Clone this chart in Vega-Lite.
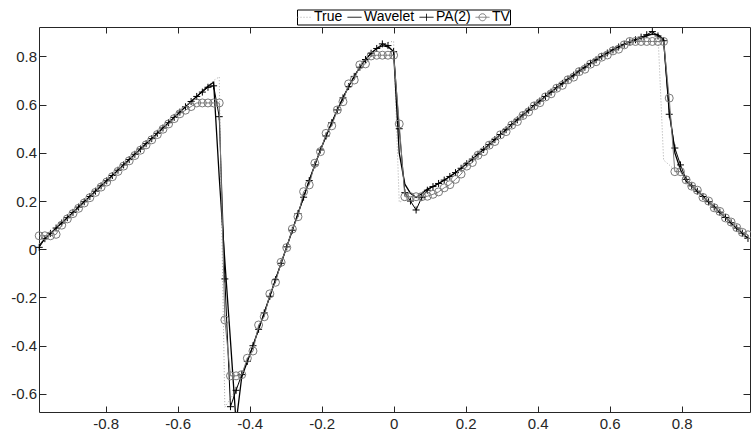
{
"$schema": "https://vega.github.io/schema/vega-lite/v6.json",
"width": 711, "height": 385,
"autosize": {"type": "none"},
"padding": {"left": 39, "top": 27, "right": 1, "bottom": 24},
"background": "white",
"config": {"view": {"stroke": null}, "font": "Liberation Sans"},
"data": {"values": [
{"x":-0.984375,"True":0.022,"Wavelet":0.015,"PA(2)":0.008,"TV":0.056},
{"x":-0.96875,"True":0.044,"Wavelet":0.044,"PA(2)":0.044,"TV":0.056},
{"x":-0.953125,"True":0.066,"Wavelet":0.066,"PA(2)":0.066,"TV":0.056},
{"x":-0.9375,"True":0.088,"Wavelet":0.088,"PA(2)":0.088,"TV":0.062},
{"x":-0.921875,"True":0.109,"Wavelet":0.109,"PA(2)":0.109,"TV":0.1},
{"x":-0.90625,"True":0.131,"Wavelet":0.131,"PA(2)":0.131,"TV":0.126},
{"x":-0.890625,"True":0.153,"Wavelet":0.153,"PA(2)":0.153,"TV":0.148},
{"x":-0.875,"True":0.175,"Wavelet":0.175,"PA(2)":0.175,"TV":0.17},
{"x":-0.859375,"True":0.197,"Wavelet":0.197,"PA(2)":0.197,"TV":0.192},
{"x":-0.84375,"True":0.219,"Wavelet":0.219,"PA(2)":0.219,"TV":0.214},
{"x":-0.828125,"True":0.241,"Wavelet":0.241,"PA(2)":0.241,"TV":0.236},
{"x":-0.8125,"True":0.263,"Wavelet":0.263,"PA(2)":0.263,"TV":0.258},
{"x":-0.796875,"True":0.284,"Wavelet":0.284,"PA(2)":0.284,"TV":0.279},
{"x":-0.78125,"True":0.306,"Wavelet":0.306,"PA(2)":0.306,"TV":0.301},
{"x":-0.765625,"True":0.328,"Wavelet":0.328,"PA(2)":0.328,"TV":0.323},
{"x":-0.75,"True":0.35,"Wavelet":0.35,"PA(2)":0.35,"TV":0.345},
{"x":-0.734375,"True":0.372,"Wavelet":0.372,"PA(2)":0.372,"TV":0.367},
{"x":-0.71875,"True":0.394,"Wavelet":0.394,"PA(2)":0.394,"TV":0.389},
{"x":-0.703125,"True":0.416,"Wavelet":0.416,"PA(2)":0.416,"TV":0.411},
{"x":-0.6875,"True":0.438,"Wavelet":0.438,"PA(2)":0.438,"TV":0.433},
{"x":-0.671875,"True":0.459,"Wavelet":0.459,"PA(2)":0.459,"TV":0.454},
{"x":-0.65625,"True":0.481,"Wavelet":0.481,"PA(2)":0.481,"TV":0.476},
{"x":-0.640625,"True":0.503,"Wavelet":0.503,"PA(2)":0.503,"TV":0.498},
{"x":-0.625,"True":0.525,"Wavelet":0.525,"PA(2)":0.525,"TV":0.52},
{"x":-0.609375,"True":0.547,"Wavelet":0.547,"PA(2)":0.547,"TV":0.542},
{"x":-0.59375,"True":0.569,"Wavelet":0.569,"PA(2)":0.569,"TV":0.562},
{"x":-0.578125,"True":0.591,"Wavelet":0.591,"PA(2)":0.591,"TV":0.577},
{"x":-0.5625,"True":0.613,"Wavelet":0.613,"PA(2)":0.613,"TV":0.592},
{"x":-0.546875,"True":0.634,"Wavelet":0.634,"PA(2)":0.634,"TV":0.607},
{"x":-0.53125,"True":0.656,"Wavelet":0.656,"PA(2)":0.652,"TV":0.607},
{"x":-0.515625,"True":0.678,"Wavelet":0.676,"PA(2)":0.672,"TV":0.607},
{"x":-0.5,"True":0.7,"Wavelet":0.693,"PA(2)":0.678,"TV":0.607},
{"x":-0.484375,"True":0.715,"Wavelet":0.3,"PA(2)":0.55,"TV":0.607},
{"x":-0.46875,"True":-0.655,"Wavelet":-0.05,"PA(2)":-0.123,"TV":-0.293},
{"x":-0.453125,"True":-0.62,"Wavelet":-0.38,"PA(2)":-0.653,"TV":-0.525},
{"x":-0.4375,"True":-0.58,"Wavelet":-0.72,"PA(2)":-0.585,"TV":-0.525},
{"x":-0.421875,"True":-0.53,"Wavelet":-0.53,"PA(2)":-0.52,"TV":-0.52},
{"x":-0.40625,"True":-0.47,"Wavelet":-0.465,"PA(2)":-0.465,"TV":-0.452},
{"x":-0.390625,"True":-0.4,"Wavelet":-0.4,"PA(2)":-0.4,"TV":-0.422},
{"x":-0.375,"True":-0.332,"Wavelet":-0.332,"PA(2)":-0.332,"TV":-0.314},
{"x":-0.359375,"True":-0.264,"Wavelet":-0.264,"PA(2)":-0.264,"TV":-0.28},
{"x":-0.34375,"True":-0.195,"Wavelet":-0.195,"PA(2)":-0.195,"TV":-0.185},
{"x":-0.328125,"True":-0.126,"Wavelet":-0.126,"PA(2)":-0.126,"TV":-0.137},
{"x":-0.3125,"True":-0.058,"Wavelet":-0.058,"PA(2)":-0.058,"TV":-0.054},
{"x":-0.296875,"True":0.01,"Wavelet":0.01,"PA(2)":0.01,"TV":0.007},
{"x":-0.28125,"True":0.079,"Wavelet":0.079,"PA(2)":0.079,"TV":0.084},
{"x":-0.265625,"True":0.148,"Wavelet":0.148,"PA(2)":0.148,"TV":0.135},
{"x":-0.25,"True":0.216,"Wavelet":0.216,"PA(2)":0.216,"TV":0.239},
{"x":-0.234375,"True":0.285,"Wavelet":0.285,"PA(2)":0.285,"TV":0.267},
{"x":-0.21875,"True":0.35,"Wavelet":0.35,"PA(2)":0.35,"TV":0.357},
{"x":-0.203125,"True":0.412,"Wavelet":0.412,"PA(2)":0.412,"TV":0.405},
{"x":-0.1875,"True":0.47,"Wavelet":0.47,"PA(2)":0.47,"TV":0.481},
{"x":-0.171875,"True":0.525,"Wavelet":0.525,"PA(2)":0.525,"TV":0.512},
{"x":-0.15625,"True":0.578,"Wavelet":0.578,"PA(2)":0.578,"TV":0.578},
{"x":-0.140625,"True":0.628,"Wavelet":0.628,"PA(2)":0.628,"TV":0.612},
{"x":-0.125,"True":0.675,"Wavelet":0.675,"PA(2)":0.675,"TV":0.686},
{"x":-0.109375,"True":0.717,"Wavelet":0.717,"PA(2)":0.717,"TV":0.702},
{"x":-0.09375,"True":0.755,"Wavelet":0.755,"PA(2)":0.755,"TV":0.765},
{"x":-0.078125,"True":0.787,"Wavelet":0.787,"PA(2)":0.787,"TV":0.769},
{"x":-0.0625,"True":0.813,"Wavelet":0.813,"PA(2)":0.813,"TV":0.802},
{"x":-0.046875,"True":0.833,"Wavelet":0.833,"PA(2)":0.833,"TV":0.805},
{"x":-0.03125,"True":0.848,"Wavelet":0.845,"PA(2)":0.852,"TV":0.805},
{"x":-0.015625,"True":0.858,"Wavelet":0.84,"PA(2)":0.845,"TV":0.805},
{"x":0.0,"True":0.863,"Wavelet":0.82,"PA(2)":0.82,"TV":0.805},
{"x":0.015625,"True":0.195,"Wavelet":0.4,"PA(2)":0.5,"TV":0.52},
{"x":0.03125,"True":0.205,"Wavelet":0.27,"PA(2)":0.235,"TV":0.218},
{"x":0.046875,"True":0.215,"Wavelet":0.232,"PA(2)":0.2,"TV":0.218},
{"x":0.0625,"True":0.226,"Wavelet":0.215,"PA(2)":0.163,"TV":0.218},
{"x":0.078125,"True":0.238,"Wavelet":0.23,"PA(2)":0.215,"TV":0.218},
{"x":0.09375,"True":0.25,"Wavelet":0.25,"PA(2)":0.245,"TV":0.22},
{"x":0.109375,"True":0.26,"Wavelet":0.26,"PA(2)":0.26,"TV":0.228},
{"x":0.125,"True":0.273,"Wavelet":0.273,"PA(2)":0.273,"TV":0.238},
{"x":0.140625,"True":0.287,"Wavelet":0.287,"PA(2)":0.287,"TV":0.255},
{"x":0.15625,"True":0.302,"Wavelet":0.302,"PA(2)":0.302,"TV":0.268},
{"x":0.171875,"True":0.318,"Wavelet":0.318,"PA(2)":0.318,"TV":0.29},
{"x":0.1875,"True":0.336,"Wavelet":0.336,"PA(2)":0.336,"TV":0.312},
{"x":0.203125,"True":0.355,"Wavelet":0.355,"PA(2)":0.355,"TV":0.345},
{"x":0.21875,"True":0.374,"Wavelet":0.374,"PA(2)":0.374,"TV":0.36},
{"x":0.234375,"True":0.394,"Wavelet":0.394,"PA(2)":0.394,"TV":0.39},
{"x":0.25,"True":0.414,"Wavelet":0.414,"PA(2)":0.414,"TV":0.405},
{"x":0.265625,"True":0.434,"Wavelet":0.434,"PA(2)":0.434,"TV":0.432},
{"x":0.28125,"True":0.455,"Wavelet":0.455,"PA(2)":0.455,"TV":0.447},
{"x":0.296875,"True":0.476,"Wavelet":0.476,"PA(2)":0.476,"TV":0.475},
{"x":0.3125,"True":0.496,"Wavelet":0.496,"PA(2)":0.496,"TV":0.488},
{"x":0.328125,"True":0.517,"Wavelet":0.517,"PA(2)":0.517,"TV":0.515},
{"x":0.34375,"True":0.537,"Wavelet":0.537,"PA(2)":0.537,"TV":0.53},
{"x":0.359375,"True":0.557,"Wavelet":0.557,"PA(2)":0.557,"TV":0.555},
{"x":0.375,"True":0.577,"Wavelet":0.577,"PA(2)":0.577,"TV":0.57},
{"x":0.390625,"True":0.596,"Wavelet":0.596,"PA(2)":0.596,"TV":0.595},
{"x":0.40625,"True":0.615,"Wavelet":0.615,"PA(2)":0.615,"TV":0.608},
{"x":0.421875,"True":0.634,"Wavelet":0.634,"PA(2)":0.634,"TV":0.632},
{"x":0.4375,"True":0.652,"Wavelet":0.652,"PA(2)":0.652,"TV":0.645},
{"x":0.453125,"True":0.67,"Wavelet":0.67,"PA(2)":0.67,"TV":0.668},
{"x":0.46875,"True":0.688,"Wavelet":0.688,"PA(2)":0.688,"TV":0.68},
{"x":0.484375,"True":0.705,"Wavelet":0.705,"PA(2)":0.705,"TV":0.703},
{"x":0.5,"True":0.722,"Wavelet":0.722,"PA(2)":0.722,"TV":0.714},
{"x":0.515625,"True":0.739,"Wavelet":0.739,"PA(2)":0.739,"TV":0.737},
{"x":0.53125,"True":0.755,"Wavelet":0.755,"PA(2)":0.755,"TV":0.747},
{"x":0.546875,"True":0.771,"Wavelet":0.771,"PA(2)":0.771,"TV":0.768},
{"x":0.5625,"True":0.786,"Wavelet":0.786,"PA(2)":0.786,"TV":0.778},
{"x":0.578125,"True":0.8,"Wavelet":0.8,"PA(2)":0.8,"TV":0.797},
{"x":0.59375,"True":0.814,"Wavelet":0.814,"PA(2)":0.814,"TV":0.806},
{"x":0.609375,"True":0.827,"Wavelet":0.827,"PA(2)":0.827,"TV":0.823},
{"x":0.625,"True":0.839,"Wavelet":0.839,"PA(2)":0.839,"TV":0.83},
{"x":0.640625,"True":0.85,"Wavelet":0.85,"PA(2)":0.85,"TV":0.848},
{"x":0.65625,"True":0.86,"Wavelet":0.86,"PA(2)":0.86,"TV":0.862},
{"x":0.671875,"True":0.869,"Wavelet":0.869,"PA(2)":0.869,"TV":0.862},
{"x":0.6875,"True":0.877,"Wavelet":0.877,"PA(2)":0.88,"TV":0.862},
{"x":0.703125,"True":0.884,"Wavelet":0.885,"PA(2)":0.89,"TV":0.862},
{"x":0.71875,"True":0.889,"Wavelet":0.893,"PA(2)":0.903,"TV":0.862},
{"x":0.734375,"True":0.893,"Wavelet":0.89,"PA(2)":0.885,"TV":0.862},
{"x":0.75,"True":0.37,"Wavelet":0.87,"PA(2)":0.865,"TV":0.862},
{"x":0.765625,"True":0.35,"Wavelet":0.58,"PA(2)":0.56,"TV":0.627},
{"x":0.78125,"True":0.328,"Wavelet":0.4,"PA(2)":0.42,"TV":0.322},
{"x":0.796875,"True":0.306,"Wavelet":0.33,"PA(2)":0.35,"TV":0.322},
{"x":0.8125,"True":0.284,"Wavelet":0.284,"PA(2)":0.29,"TV":0.288},
{"x":0.828125,"True":0.263,"Wavelet":0.263,"PA(2)":0.263,"TV":0.262},
{"x":0.84375,"True":0.241,"Wavelet":0.241,"PA(2)":0.241,"TV":0.245},
{"x":0.859375,"True":0.219,"Wavelet":0.219,"PA(2)":0.219,"TV":0.215},
{"x":0.875,"True":0.197,"Wavelet":0.197,"PA(2)":0.197,"TV":0.2},
{"x":0.890625,"True":0.175,"Wavelet":0.175,"PA(2)":0.175,"TV":0.172},
{"x":0.90625,"True":0.154,"Wavelet":0.154,"PA(2)":0.154,"TV":0.157},
{"x":0.921875,"True":0.132,"Wavelet":0.132,"PA(2)":0.132,"TV":0.13},
{"x":0.9375,"True":0.11,"Wavelet":0.11,"PA(2)":0.11,"TV":0.113},
{"x":0.953125,"True":0.088,"Wavelet":0.088,"PA(2)":0.088,"TV":0.09},
{"x":0.96875,"True":0.067,"Wavelet":0.067,"PA(2)":0.067,"TV":0.07},
{"x":0.984375,"True":0.045,"Wavelet":0.045,"PA(2)":0.045,"TV":0.06}
]},
"transform": [{"fold": ["True", "Wavelet", "PA(2)", "TV"], "as": ["series", "y"]}],
"encoding": {
  "x": {"field": "x", "type": "quantitative", "scale": {"domain": [-0.985, 0.99], "nice": false, "zero": false}, "axis": null},
  "y": {"field": "y", "type": "quantitative", "scale": {"domain": [-0.675, 0.922], "nice": false, "zero": false}, "axis": null}
},
"layer": [
  {
    "transform": [{"filter": "datum.series === 'True'"}],
    "mark": {"type": "line", "color": "#a8a8a8", "strokeWidth": 1, "strokeDash": [1, 2], "clip": true},
    "encoding": {
      "x": {"field": "x", "type": "quantitative", "scale": {"domain": [-0.985, 0.99], "nice": false, "zero": false},
        "axis": {"orient": "bottom", "title": null, "grid": false, "values": [-0.8, -0.6, -0.4, -0.2, 0, 0.2, 0.4, 0.6, 0.8],
          "tickSize": -6, "labelPadding": 10, "labelFontSize": 15, "labelColor": "#262626", "domainColor": "#262626", "tickColor": "#262626",
          "labelFlush": false, "labelOverlap": false,
          "labelExpr": "datum.value < 0 ? '-' + format(-datum.value, '.1~f') : format(datum.value, '.1~f')"}},
      "y": {"field": "y", "type": "quantitative", "scale": {"domain": [-0.675, 0.922], "nice": false, "zero": false},
        "axis": {"orient": "left", "title": null, "grid": false, "values": [-0.6, -0.4, -0.2, 0, 0.2, 0.4, 0.6, 0.8],
          "tickSize": -7, "labelPadding": 9.5, "labelFontSize": 15, "labelColor": "#262626", "domainColor": "#262626", "tickColor": "#262626",
          "labelFlush": false, "labelOverlap": false,
          "labelExpr": "datum.value < 0 ? '-' + format(-datum.value, '.1~f') : format(datum.value, '.1~f')"}}
    }
  },
  {
    "transform": [{"filter": "datum.series === 'Wavelet'"}],
    "mark": {"type": "line", "color": "#000000", "strokeWidth": 1.3, "clip": true},
    "encoding": {
      "x": {"field": "x", "type": "quantitative", "scale": {"domain": [-0.985, 0.99], "nice": false, "zero": false},
        "axis": {"orient": "top", "title": null, "grid": false, "labels": false, "values": [-0.8, -0.6, -0.4, -0.2, 0, 0.2, 0.4, 0.6, 0.8],
          "tickSize": -6, "domainColor": "#262626", "tickColor": "#262626"}},
      "y": {"field": "y", "type": "quantitative", "scale": {"domain": [-0.675, 0.922], "nice": false, "zero": false},
        "axis": {"orient": "right", "title": null, "grid": false, "labels": false, "values": [-0.6, -0.4, -0.2, 0, 0.2, 0.4, 0.6, 0.8],
          "tickSize": -7, "domainColor": "#262626", "tickColor": "#262626"}}
    }
  },
  {
    "transform": [{"filter": "datum.series === 'PA(2)'"}],
    "mark": {"type": "line", "color": "#000000", "strokeWidth": 1, "clip": true},
    "encoding": {}
  },
  {
    "transform": [{"filter": "datum.series === 'PA(2)'"}],
    "mark": {"type": "point", "shape": "M-1,0L1,0M0,-1L0,1", "size": 49, "color": "#000000", "filled": false, "strokeWidth": 1, "opacity": 1},
    "encoding": {}
  },
  {
    "transform": [{"filter": "datum.series === 'TV'"}],
    "mark": {"type": "line", "color": "#7a7a7a", "strokeWidth": 1, "clip": true},
    "encoding": {}
  },
  {
    "transform": [{"filter": "datum.series === 'TV'"}],
    "mark": {"type": "point", "shape": "circle", "size": 64, "color": "#7a7a7a", "filled": false, "strokeWidth": 1, "opacity": 1},
    "encoding": {}
  },
  {
    "mark": {"type": "point", "filled": false, "opacity": 0},
    "encoding": {
      "color": {"field": "series", "type": "nominal",
        "scale": {"domain": ["True", "Wavelet", "PA(2)", "TV"], "range": ["#a8a8a8", "#000000", "#000000", "#7a7a7a"]},
        "legend": {"title": null, "orient": "none", "legendX": 258, "legendY": -17.5, "direction": "horizontal",
          "labelFontSize": 14, "labelColor": "#000000", "symbolSize": 196, "symbolStrokeWidth": 1,
          "labelOffset": 2, "columnPadding": 2, "padding": 0, "strokeColor": "#000000", "fillColor": "#ffffff"}},
      "shape": {"field": "series", "type": "nominal",
        "scale": {"domain": ["True", "Wavelet", "PA(2)", "TV"],
          "range": ["M-1,0L1,0", "M-1,0L1,0", "M-1,0L1,0M0,-0.5L0,0.5", "M-1,0L1,0M-0.5,0A0.5,0.5,0,1,1,0.5,0A0.5,0.5,0,1,1,-0.5,0"]}},
      "strokeDash": {"field": "series", "type": "nominal",
        "scale": {"domain": ["True", "Wavelet", "PA(2)", "TV"], "range": [[1, 2], [1, 0], [1, 0], [1, 0]]}}
    }
  }
],
"resolve": {"axis": {"x": "independent", "y": "independent"}}
}
